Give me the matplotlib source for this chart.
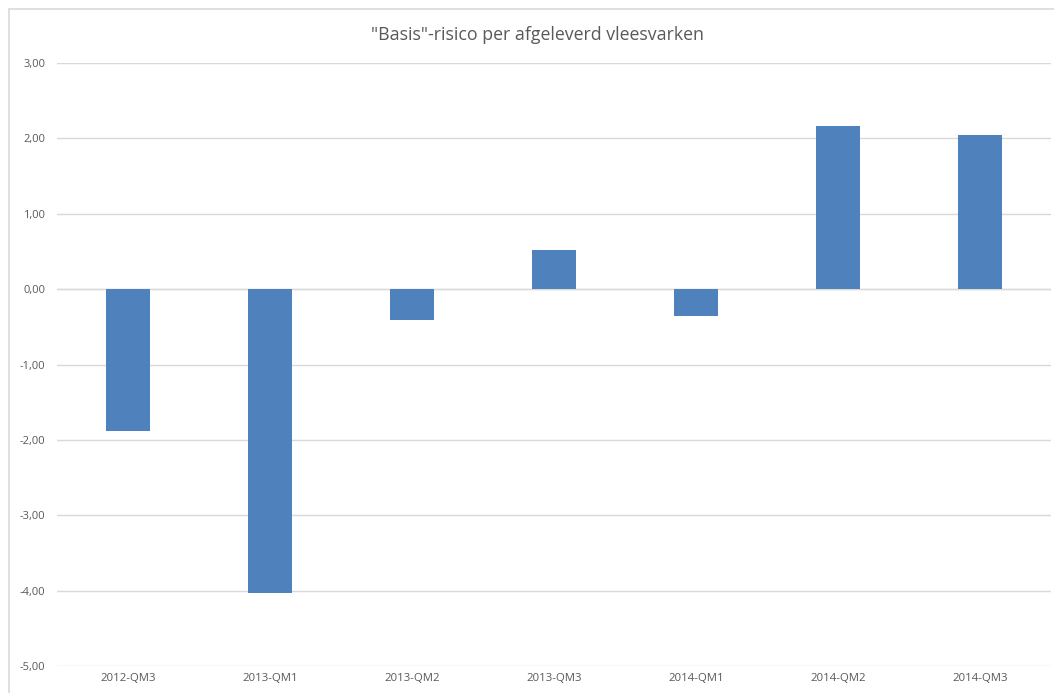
import matplotlib
matplotlib.use("Agg")
import matplotlib.pyplot as plt
from matplotlib.patches import Rectangle

# kwartalen en basisrisico per afgeleverd vleesvarken
labels = ["2012-QM3", "2013-QM1", "2013-QM2", "2013-QM3", "2014-QM1", "2014-QM2", "2014-QM3"]
values = [-1.88, -4.03, -0.41, 0.52, -0.35, 2.16, 2.04]
yticks = [3, 2, 1, 0, -1, -2, -3, -4, -5]

plt.rcParams['font.family'] = ['Open Sans', 'DejaVu Sans']

W, H = 1054, 693
fig = plt.figure(figsize=(W / 100, H / 100), dpi=100)

# grijs kader rond de grafiek (rechts en onder afgesneden)
fig.patches.append(Rectangle((9 / W, -0.1), 1.2, (H - 9) / H + 0.1, transform=fig.transFigure,
                             fill=False, edgecolor="#D9D9D9", linewidth=1.2))

ax = fig.add_axes([57 / W, 27 / H, (1051 - 57) / W, (666 - 63) / H])
x = list(range(len(labels)))
ax.bar(x, values, width=0.31, color="#4F81BD", zorder=3)

ax.set_xlim(-0.5, len(labels) - 0.5)
ax.set_ylim(-5, 3)
ax.set_yticks(yticks)
ax.set_yticklabels([("%.2f" % v).replace(".", ",") for v in yticks], fontsize=8, color="#595959")
ax.set_xticks(x)
ax.set_xticklabels(labels, fontsize=8.2, color="#595959")
ax.tick_params(axis="y", length=0, pad=8.5)
ax.tick_params(axis="x", length=0, pad=5)

ax.grid(axis="y", color="#D9D9D9", linewidth=1, zorder=0)
ax.axhline(0, color="#D9D9D9", linewidth=1, zorder=1)
for s in ax.spines.values():
    s.set_visible(False)

fig.text(538 / W, 1 - 35 / H, '"Basis"-risico per afgeleverd vleesvarken', ha="center", va="center",
         fontsize=12.8, color="#595959")

fig.savefig("out.png", dpi=100)
